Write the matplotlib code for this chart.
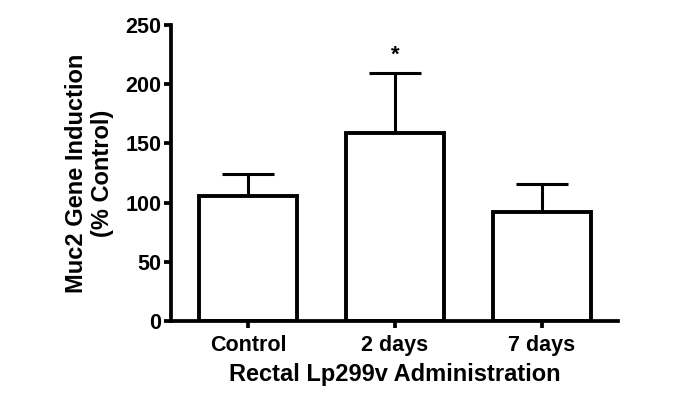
import numpy as np
import matplotlib
matplotlib.use("Agg")
import matplotlib.pyplot as plt

plt.rcParams['font.family'] = ['Liberation Sans', 'DejaVu Sans']
plt.rcParams['font.weight'] = 'bold'

# values
groups = ["Control", "2 days", "7 days"]
means = [105.5, 159, 92]
sem = [18.5, 50.5, 24]
yticks = [0, 50, 100, 150, 200, 250]

fig = plt.figure(figsize=(6.75, 4), dpi=100)
ax = fig.add_axes([171/675, 1 - 321/400, (618 - 171)/675, (321 - 25)/400])

x = np.arange(len(groups))
ax.bar(x, means, width=0.667, color='white', edgecolor='black', linewidth=2.8, zorder=2)
ax.errorbar(x, means, yerr=[np.zeros(len(sem)), sem], fmt='none', ecolor='black',
            elinewidth=2.2, capsize=18.5, capthick=2.2, zorder=1)

# significance mark
ax.text(x[1], means[1] + sem[1] + 15, "*", ha='center', va='center', fontsize=16,
        fontweight='bold')

ax.set_xlim(-0.524, 2.517)
ax.set_ylim(0, 250)
ax.set_yticks(yticks)
ax.set_xticks(x)
ax.set_xticklabels(groups)

for s in ['top', 'right']:
    ax.spines[s].set_visible(False)
for s in ['left', 'bottom']:
    ax.spines[s].set_linewidth(2.7)

ax.tick_params(axis='both', direction='out', length=5, width=2.7, labelsize=15.5, pad=2)
ax.tick_params(axis='x', pad=5)

ax.set_xlabel("Rectal Lp299v Administration", fontsize=17, fontweight='bold', labelpad=5)
ax.set_ylabel("Muc2 Gene Induction\n(% Control)", fontsize=17, fontweight='bold',
              linespacing=1.2, labelpad=8)

fig.savefig("out.png", dpi=100)
